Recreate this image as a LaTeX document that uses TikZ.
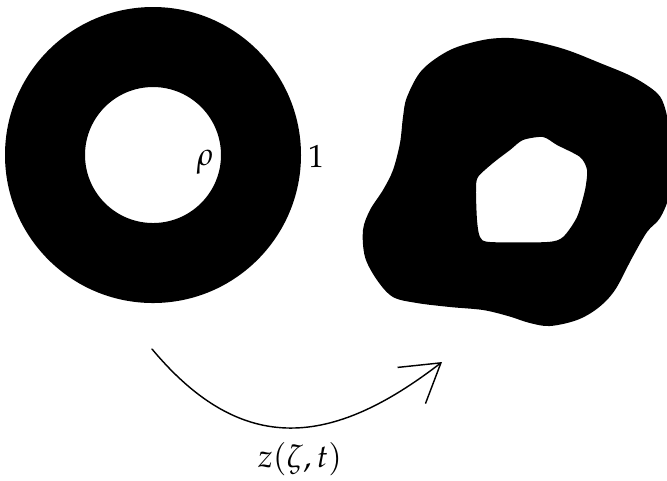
\documentclass[tikz,border=0pt]{standalone}
\usepackage{amsfonts,amsmath,amssymb}
\usepackage{mathpazo}
\usetikzlibrary{arrows.meta}
\tikzset{
  every picture/.style={font=\fontsize{11.2}{13}\selectfont, line join=round, line cap=round, >=Stealth},
  region/.style={fill=black, even odd rule},
  maparrow/.style={line width=0.5pt, -{Straight Barb[length=13pt, width=16pt, line width=0.5pt]}},
}

\begin{document}
\begin{tikzpicture}[x=0.35pt, y=-0.35pt]
\useasboundingbox (0,0) rectangle (667,480);
\fill[region](153,155) circle[radius=148]
(153,155) circle[radius=68];
\fill[region] plot[smooth cycle, tension=0.55] coordinates {
(400,143) (403,117) (407,97) (422,70) (450,50) (483,40) (510,38) (537,42)
(567,50) (600,63) (633,77) (657,93) (665,108) (669,130) (670,160) (669,195)
(660,218) (647,232) (632,258) (615,290) (598,308) (577,320) (550,326) (530,323)
(508,316) (483,310) (450,307) (417,303) (393,297) (377,280) (365,257) (363,230)
(370,210) (383,190) (393,170)}
plot[smooth cycle, tension=0.45] coordinates {
(476,190) (478,177) (493,163) (510,150) (523,140) (543,137) (557,145) (580,157)
(587,170) (585,190) (577,217) (563,237) (547,242) (490,242) (480,237) (477,220)};
\node (rho) at (205,162) {$\rho$};
\node (one) at (316,156) {$1$};
\coordinate (mapstart) at (152,349);
\coordinate (mapend) at (442,362);
\draw[maparrow](mapstart) .. controls (243,458) and (333,446) .. (mapend);
\node (map) at (300,459) {$z(\zeta,t)$};
\end{tikzpicture}
\end{document}
